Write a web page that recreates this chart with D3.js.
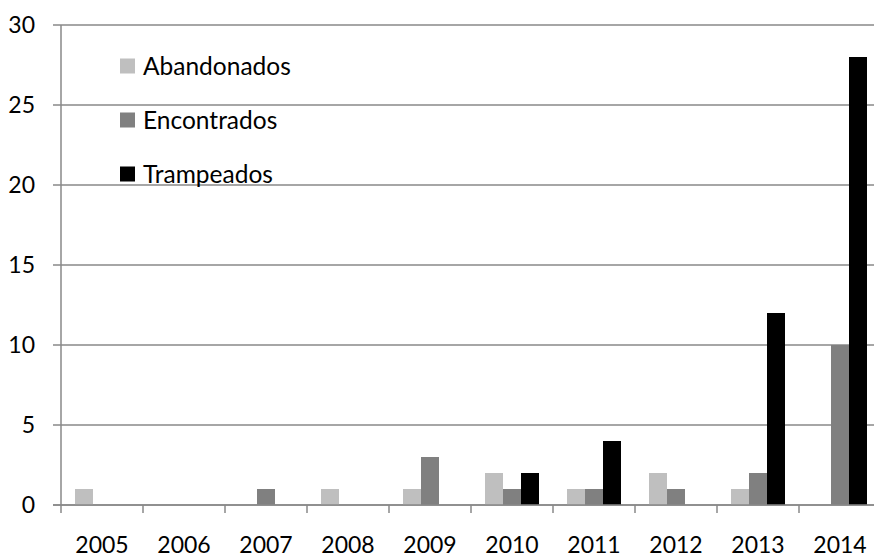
<!DOCTYPE html>
<html><head><meta charset="utf-8">
<script src="https://cdn.jsdelivr.net/npm/d3@7"></script>
<style>body{margin:0;background:#fff}svg{display:block}</style>
</head><body>
<svg id="c" width="874" height="558"></svg>
<script>
const years = ["2005","2006","2007","2008","2009","2010","2011","2012","2013","2014"];
const seriesNames = ["Abandonados","Encontrados","Trampeados"];
const abandonados = [1,0,0,1,1,2,1,2,1,0];
const encontrados = [0,0,1,0,3,1,1,1,2,10];
const trampeados  = [0,0,0,0,0,2,4,0,12,28];
const yTicks = [0,5,10,15,20,25,30];
const colors = ["#bfbfbf","#808080","#000000"];
const values = [abandonados, encontrados, trampeados];

const svg = d3.select("#c");
const font = "Lato, 'Open Sans', sans-serif";
const pLeft = 61, pRight = 881, pTop = 25, pBottom = 505;
const x = d3.scaleBand().domain(years).range([pLeft, pRight]).padding(0);
const xs = d3.scaleBand().domain(seriesNames).range([14, 68]).padding(0);
const y = d3.scaleLinear().domain([0,30]).range([pBottom, pTop]);

// gridlines
svg.append("g").selectAll("line").data(yTicks).join("line")
  .attr("x1", pLeft - 8).attr("x2", pRight)
  .attr("y1", d => y(d)).attr("y2", d => y(d))
  .attr("stroke", "#888").attr("stroke-width", 1.5);

// y axis line
svg.append("line").attr("x1", pLeft).attr("x2", pLeft).attr("y1", pTop).attr("y2", pBottom + 8)
  .attr("stroke", "#888").attr("stroke-width", 1.5);

// x ticks (category boundaries)
svg.append("g").selectAll("line").data(years.slice(1)).join("line")
  .attr("x1", d => x(d)).attr("x2", d => x(d))
  .attr("y1", pBottom).attr("y2", pBottom + 8)
  .attr("stroke", "#888").attr("stroke-width", 1.5);

// bars
seriesNames.forEach((s, si) => {
  svg.append("g").selectAll("rect").data(years).join("rect")
    .attr("x", d => x(d) + xs(s))
    .attr("width", xs.bandwidth())
    .attr("y", (d, i) => y(values[si][i]))
    .attr("height", (d, i) => y(0) - y(values[si][i]))
    .attr("fill", colors[si]);
});

// baseline on top
svg.append("line").attr("x1", pLeft - 8).attr("x2", pRight).attr("y1", y(0)).attr("y2", y(0))
  .attr("stroke", "#888").attr("stroke-width", 1.5);

// y labels
svg.append("g").selectAll("text").data(yTicks).join("text")
  .attr("x", 35).attr("y", d => y(d)).attr("dy", "0.36em")
  .attr("text-anchor", "end").attr("font-family", font).attr("font-size", 23)
  .attr("fill", "#000").text(d => d);

// x labels
svg.append("g").selectAll("text").data(years).join("text")
  .attr("x", d => x(d) + x.bandwidth()/2).attr("y", 553)
  .attr("text-anchor", "middle").attr("font-family", font).attr("font-size", 23)
  .attr("fill", "#000").text(d => d);

// legend
const lg = svg.append("g").selectAll("g").data(seriesNames).join("g")
  .attr("transform", (d, i) => `translate(120, ${66 + i * 54})`);
lg.append("rect").attr("x", 0).attr("y", -7.5).attr("width", 15).attr("height", 15)
  .attr("fill", (d, i) => colors[i]);
lg.append("text").attr("x", 23).attr("y", 0).attr("dy", "0.36em")
  .attr("font-family", font).attr("font-size", 24.5).attr("fill", "#000").text(d => d);
</script>
</body></html>
